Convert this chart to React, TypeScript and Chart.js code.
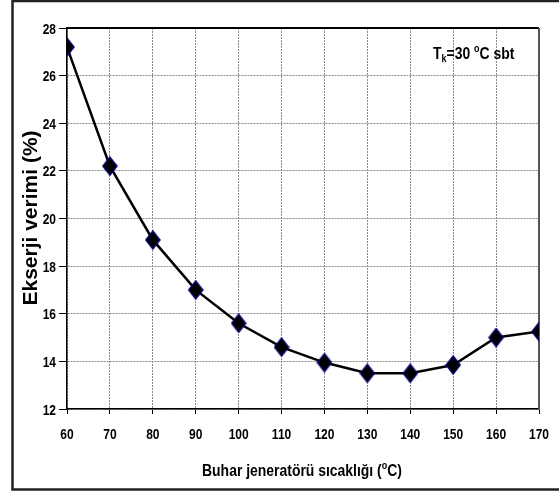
import React, { useEffect, useRef } from "react";
import { Chart, registerables } from "chart.js";

Chart.register(...registerables);

const temperatures = [60, 70, 80, 90, 100, 110, 120, 130, 140, 150, 160, 170];
const exergyEfficiency = [27.2, 22.2, 19.1, 17.0, 15.6, 14.6, 13.95, 13.5, 13.5, 13.85, 15.0, 15.25];
const yTitle = "Ekserji verimi (%)";
const xTitleParts = ["Buhar jeneratörü sıcaklığı (", "o", "C)"];
const annotationParts = ["T", "k", "=30 ", "o", "C sbt"];

const FONT = '"Liberation Sans", Arial, sans-serif';
const NARROW = 0.82;

function makeDiamond(): HTMLCanvasElement {
  const c = document.createElement("canvas");
  c.width = 16;
  c.height = 20;
  const g = c.getContext("2d")!;
  g.beginPath();
  g.moveTo(8, 0.8);
  g.lineTo(15.2, 10);
  g.lineTo(8, 19.2);
  g.lineTo(0.8, 10);
  g.closePath();
  g.fillStyle = "#000000";
  g.fill();
  g.lineWidth = 1.2;
  g.strokeStyle = "#000080";
  g.stroke();
  return c;
}

function drawRich(ctx: CanvasRenderingContext2D, parts: [string, number, number][], x: number, base: number, align: "left" | "center" | "right", sx: number) {
  let total = 0;
  const widths = parts.map(([t, s]) => {
    ctx.font = `bold ${s}px ${FONT}`;
    const w = ctx.measureText(t).width * sx;
    total += w;
    return w;
  });
  let cx = align === "left" ? x : align === "center" ? x - total / 2 : x - total;
  ctx.textAlign = "left";
  ctx.textBaseline = "alphabetic";
  parts.forEach(([t, s, dy], i) => {
    ctx.font = `bold ${s}px ${FONT}`;
    ctx.save();
    ctx.translate(cx, base + dy);
    ctx.scale(sx, 1);
    ctx.fillText(t, 0, 0);
    ctx.restore();
    cx += widths[i];
  });
}

const decorPlugin = {
  id: "decor",
  beforeDatasetsDraw(chart: any) {
    const { ctx, chartArea } = chart;
    ctx.save();
    ctx.setLineDash([]);
    ctx.lineWidth = 2;
    ctx.strokeStyle = "#000";
    ctx.beginPath();
    ctx.moveTo(chartArea.left, chartArea.top);
    ctx.lineTo(chartArea.right, chartArea.top);
    ctx.stroke();
    ctx.strokeStyle = "#555";
    ctx.beginPath();
    ctx.moveTo(chartArea.right, chartArea.top);
    ctx.lineTo(chartArea.right, chartArea.bottom);
    ctx.stroke();
    ctx.restore();
  },
  afterDraw(chart: any) {
    const { ctx } = chart;
    const xs = chart.scales.x;
    const ys = chart.scales.y;
    ctx.save();
    ctx.lineWidth = 2.5;
    ctx.strokeStyle = "#222";
    ctx.strokeRect(12.5, 1, 600, 488.5);

    ctx.fillStyle = "#000";
    xs.ticks.forEach((t: any) => {
      const px = xs.getPixelForValue(t.value);
      drawRich(ctx, [[String(t.label ?? t.value), 15, 0]], px, 439, "center", 0.8);
    });
    ys.ticks.forEach((t: any) => {
      const py = ys.getPixelForValue(t.value);
      drawRich(ctx, [[String(t.label ?? t.value), 15, 0]], 56, py + 5.5, "right", 0.8);
    });

    ctx.save();
    ctx.translate(36.5, 218);
    ctx.rotate(-Math.PI / 2);
    ctx.font = `bold 21px ${FONT}`;
    ctx.textAlign = "center";
    ctx.textBaseline = "alphabetic";
    ctx.fillText(yTitle, 0, 0);
    ctx.restore();

    drawRich(
      ctx,
      [
        [xTitleParts[0], 17, 0],
        [xTitleParts[1], 11, -7],
        [xTitleParts[2], 17, 0],
      ],
      302,
      476,
      "center",
      NARROW
    );

    drawRich(
      ctx,
      [
        [annotationParts[0], 17, 0],
        [annotationParts[1], 11, 3],
        [annotationParts[2], 17, 0],
        [annotationParts[3], 11, -7],
        [annotationParts[4], 17, 0],
      ],
      433,
      59,
      "left",
      NARROW
    );
    ctx.restore();
  },
};

export default function App() {
  const ref = useRef<HTMLCanvasElement>(null);
  useEffect(() => {
    if (!ref.current) return;
    const diamond = makeDiamond();
    const chart = new Chart(ref.current, {
      type: "line",
      data: {
        datasets: [
          {
            data: temperatures.map((t, i) => ({ x: t, y: exergyEfficiency[i] })),
            borderColor: "#000",
            borderWidth: 2.5,
            pointStyle: diamond as any,
            pointRadius: 8,
            tension: 0,
          },
        ],
      },
      options: {
        animation: false,
        responsive: false,
        layout: { padding: { left: 0, top: 28, right: 20, bottom: 0 } },
        plugins: { legend: { display: false }, tooltip: { enabled: false } },
        scales: {
          x: {
            type: "linear",
            min: 60,
            max: 170,
            ticks: { stepSize: 10, display: false },
            grid: { color: "#8a8a8a", lineWidth: 1, tickLength: 5, tickColor: "#000" },
            border: { color: "#000", width: 1.5, dash: [2, 1] },
            afterFit: (s: any) => { s.height = 84; },
          },
          y: {
            min: 12,
            max: 28,
            ticks: { stepSize: 2, display: false },
            grid: { color: "#8a8a8a", lineWidth: 1, tickLength: 8, tickColor: "#000" },
            border: { color: "#000", width: 1.5, dash: [2, 1] },
            afterFit: (s: any) => { s.width = 67; },
          },
        },
      },
      plugins: [decorPlugin],
    });
    return () => chart.destroy();
  }, []);
  return (
    <div style={{ position: "fixed", left: 0, top: 0, width: 559, height: 493, background: "#fff" }}>
      <canvas ref={ref} width={559} height={493} style={{ display: "block" }} />
    </div>
  );
}
